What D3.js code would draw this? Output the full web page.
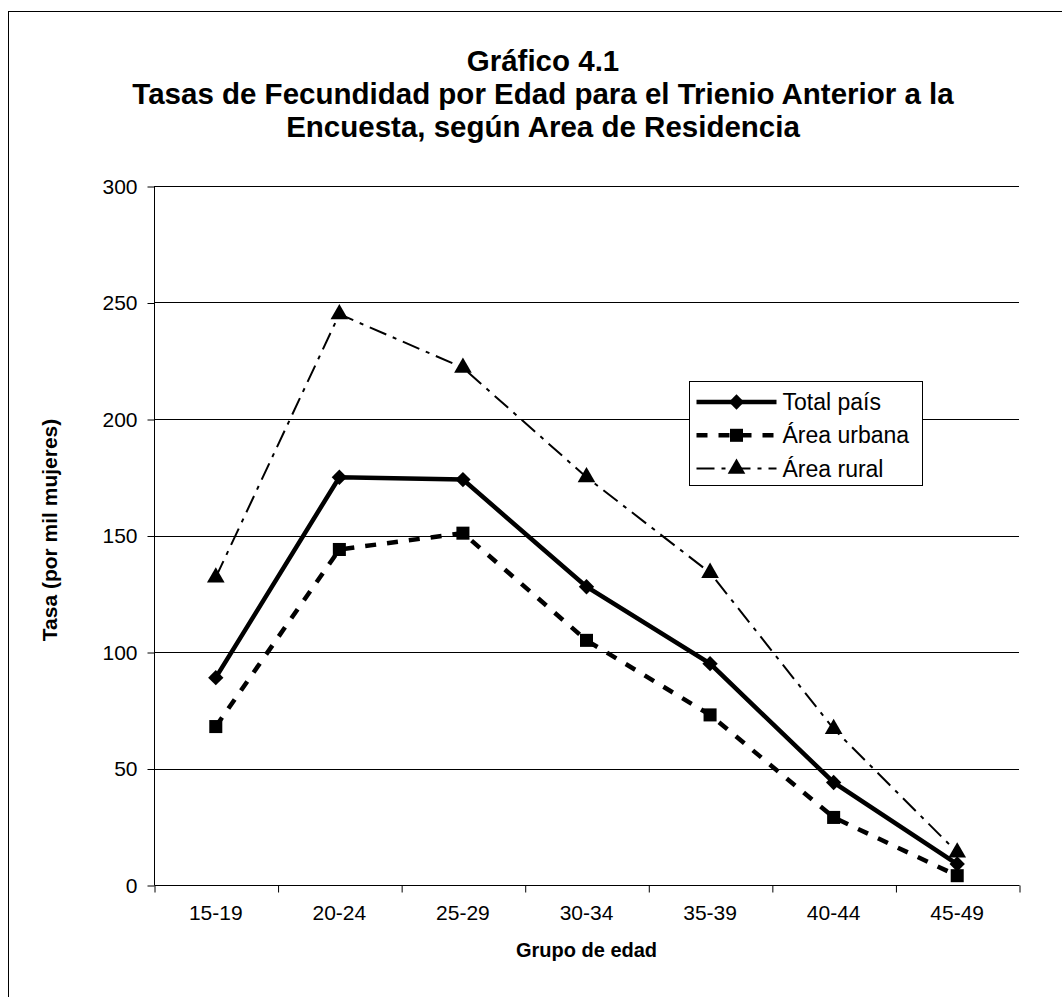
<!DOCTYPE html>
<html>
<head>
<meta charset="utf-8">
<script src="https://cdn.jsdelivr.net/npm/d3@7"></script>
<style>
  body { margin: 0; background: #fff; }
  svg { display: block; font-family: "Liberation Sans", Arial, sans-serif; }
</style>
</head>
<body>
<div id="chart"></div>
<script>
// Data
const ageGroups = ["15-19", "20-24", "25-29", "30-34", "35-39", "40-44", "45-49"];
const totalPais = [89, 175, 174, 128, 95, 44, 9];
const areaUrbana = [68, 144, 151, 105, 73, 29, 4];
const areaRural = [132, 245, 222, 175, 134, 67, 14];
const yTicks = [0, 50, 100, 150, 200, 250, 300];
const titleLines = [
  "Gráfico 4.1",
  "Tasas de Fecundidad por Edad para el Trienio Anterior a la",
  "Encuesta, según Area de Residencia"
];

const svgWidth = 1062;
const svgHeight = 997;

// plot area
const margin = { top: 186, right: 43, bottom: 112, left: 154 };
const chartWidth = svgWidth - margin.left - margin.right;
const chartHeight = svgHeight - margin.top - margin.bottom;

const svg = d3.select("#chart")
  .append("svg")
  .attr("width", svgWidth)
  .attr("height", svgHeight);

// outer frame (only left and top edges fall inside the picture)
svg.append("rect")
  .attr("x", 8.5)
  .attr("y", 11.5)
  .attr("width", 1200)
  .attr("height", 1200)
  .attr("fill", "none")
  .attr("stroke", "#000")
  .attr("stroke-width", 1);

// title
svg.append("text")
  .attr("x", 543)
  .attr("text-anchor", "middle")
  .attr("font-weight", "bold")
  .attr("font-size", 29.5)
  .selectAll("tspan")
  .data(titleLines)
  .enter()
  .append("tspan")
  .attr("x", 543)
  .attr("y", (d, i) => 71 + i * 33)
  .text(d => d);

const chartGroup = svg.append("g")
  .attr("transform", `translate(${margin.left}, ${margin.top})`);

const xBand = d3.scaleBand()
  .domain(ageGroups)
  .range([0, chartWidth])
  .padding(0);

const yLinearScale = d3.scaleLinear()
  .domain([0, 300])
  .range([chartHeight, 0]);

const xPos = d => xBand(d) + xBand.bandwidth() / 2;

// gridlines
chartGroup.append("g")
  .selectAll("line")
  .data(yTicks.filter(t => t > 0))
  .enter()
  .append("line")
  .attr("x1", 0)
  .attr("x2", chartWidth)
  .attr("y1", d => Math.round(yLinearScale(d)) + 0.5)
  .attr("y2", d => Math.round(yLinearScale(d)) + 0.5)
  .attr("stroke", "#000")
  .attr("stroke-width", 1);

// y axis
const leftAxis = d3.axisLeft(yLinearScale)
  .tickValues(yTicks)
  .tickSize(7)
  .tickPadding(10);

const yAxisG = chartGroup.append("g")
  .attr("transform", "translate(0.5, 0.5)")
  .call(leftAxis);
yAxisG.selectAll("text")
  .attr("font-size", 21)
  .attr("font-family", "Liberation Sans, Arial, sans-serif")
  .attr("fill", "#000");
yAxisG.selectAll("line, path").attr("stroke", "#000");
yAxisG.select(".domain").attr("d", `M0,${chartHeight}V0`);

// x axis: ticks on category boundaries, labels centred in each band
const xBoundary = d3.scaleLinear().domain([0, ageGroups.length]).range([0, chartWidth]);
const bottomAxis = d3.axisBottom(xBoundary)
  .ticks(ageGroups.length)
  .tickSize(7)
  .tickFormat("");

const xAxisG = chartGroup.append("g")
  .attr("transform", `translate(0.5, ${Math.round(chartHeight) + 0.5})`)
  .call(bottomAxis);
xAxisG.selectAll("line, path").attr("stroke", "#000");
xAxisG.select(".domain").attr("d", `M0,0H${chartWidth}`);

chartGroup.append("g")
  .selectAll("text")
  .data(ageGroups)
  .enter()
  .append("text")
  .attr("x", d => xPos(d))
  .attr("y", chartHeight + 35)
  .attr("text-anchor", "middle")
  .attr("font-size", 21)
  .text(d => d);

// axis titles
svg.append("text")
  .attr("transform", `translate(57, 530) rotate(-90)`)
  .attr("text-anchor", "middle")
  .attr("font-weight", "bold")
  .attr("font-size", 21)
  .text("Tasa (por mil mujeres)");

svg.append("text")
  .attr("x", margin.left + chartWidth / 2)
  .attr("y", 957)
  .attr("text-anchor", "middle")
  .attr("font-weight", "bold")
  .attr("font-size", 20)
  .text("Grupo de edad");

// series
const series = [
  { name: "Total país", values: totalPais, dash: null, width: 4.5, marker: "diamond" },
  { name: "Área urbana", values: areaUrbana, dash: "11,11", width: 4.5, marker: "square" },
  { name: "Área rural", values: areaRural, dash: "18,7,4,7", width: 2, marker: "triangle" }
];

const symbolOf = {
  diamond: d3.symbol().type(d3.symbolDiamond2).size(150),
  square: d3.symbol().type(d3.symbolSquare).size(170),
  triangle: d3.symbol().type(d3.symbolTriangle).size(135)
};

const line = d3.line()
  .x((d, i) => xPos(ageGroups[i]))
  .y(d => yLinearScale(d));

series.forEach(s => {
  chartGroup.append("path")
    .datum(s.values)
    .attr("d", line)
    .attr("fill", "none")
    .attr("stroke", "#000")
    .attr("stroke-width", s.width)
    .attr("stroke-dasharray", s.dash);

  chartGroup.append("g")
    .selectAll("path")
    .data(s.values)
    .enter()
    .append("path")
    .attr("d", symbolOf[s.marker])
    .attr("transform", (d, i) => `translate(${xPos(ageGroups[i])}, ${yLinearScale(d)})`)
    .attr("fill", "#000");
});

// legend
const legend = svg.append("g")
  .attr("transform", "translate(689.5, 381.5)");

legend.append("rect")
  .attr("width", 233)
  .attr("height", 104)
  .attr("fill", "#fff")
  .attr("stroke", "#000")
  .attr("stroke-width", 1);

const legendRows = legend.selectAll("g.row")
  .data(series)
  .enter()
  .append("g")
  .attr("class", "row")
  .attr("transform", (d, i) => `translate(0, ${20.5 + i * 33.3})`);

legendRows.append("line")
  .attr("x1", 7)
  .attr("x2", 87)
  .attr("stroke", "#000")
  .attr("stroke-width", d => d.width)
  .attr("stroke-dasharray", d => d.dash);

legendRows.append("path")
  .attr("d", d => symbolOf[d.marker]())
  .attr("transform", "translate(47, 0)")
  .attr("fill", "#000");

legendRows.append("text")
  .attr("x", 93)
  .attr("dy", "0.35em")
  .attr("font-size", 23)
  .text(d => d.name);
</script>
